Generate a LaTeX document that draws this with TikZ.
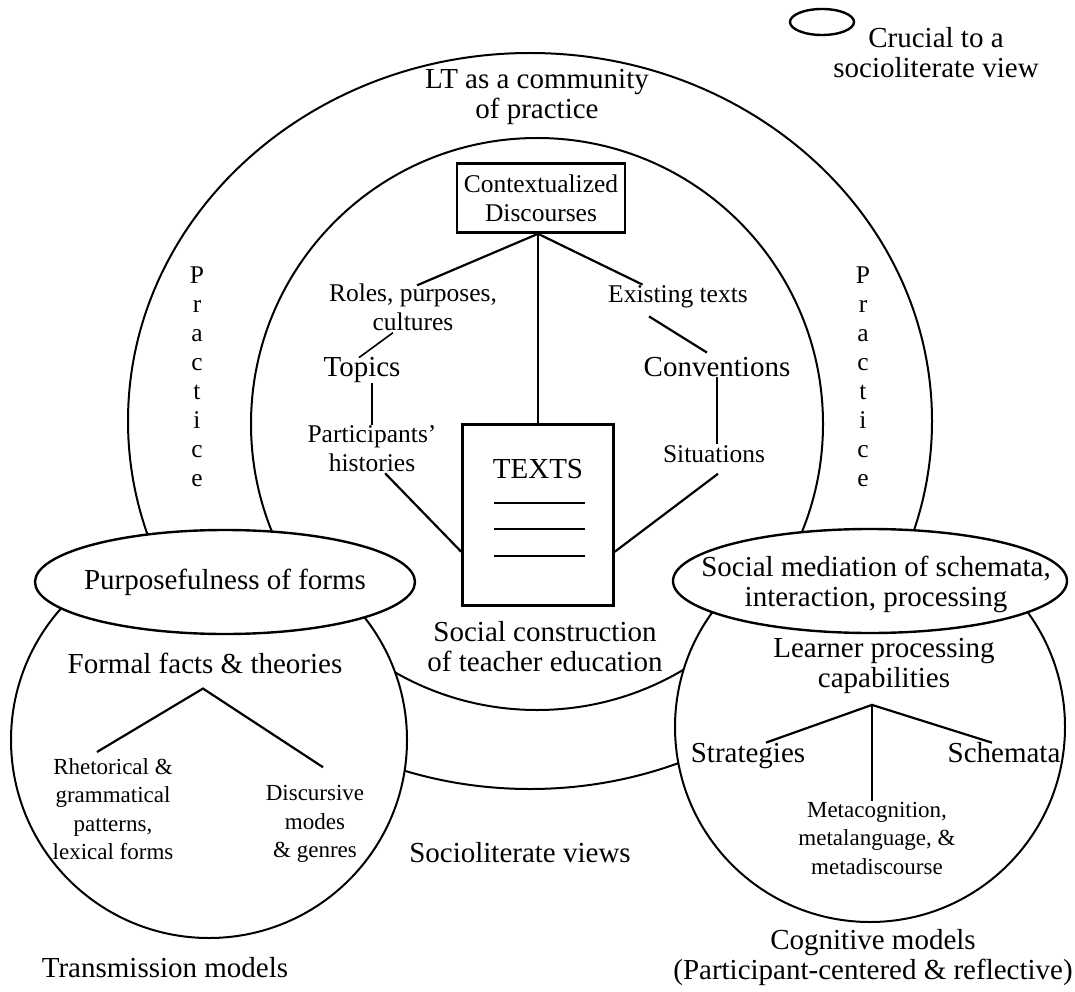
\documentclass[tikz,border=0pt]{standalone}
\usepackage{fontspec}
\setmainfont{Liberation Serif}
\usetikzlibrary{shapes.geometric,calc,positioning}
\tikzset{
  ring/.style     = {draw, line width=2pt, fill=white, inner sep=0pt},
  oval/.style     = {ring, ellipse, line width=2.4pt},
  boxed/.style    = {draw, line width=2.6pt, inner sep=0pt},
  bigtxt/.style   = {align=center, inner sep=1pt, font=\fontsize{29}{30}\selectfont},
  midtxt/.style   = {align=center, inner sep=1pt, font=\fontsize{25.5}{29}\selectfont},
  smalltxt/.style = {align=center, inner sep=1pt, font=\fontsize{23}{28.5}\selectfont},
  link/.style     = {line width=2.2pt}
}

\begin{document}
\begin{tikzpicture}[x=1pt, y=-1pt]
\useasboundingbox[fill=white] (0,0) rectangle (1075,992);

% the two big rings
\node[ring, ellipse, minimum width=804pt, minimum height=736pt] (outer) at (530,421) {};
\node[ring, circle, minimum size=572pt] (inner) at (537,424) {};

% the two model circles, with their ovals on top
\node[ring, circle, minimum size=396pt] (trans) at (209,740) {};
\node[ring, circle, minimum size=390pt] (cogn) at (870,727) {};
\node[oval, minimum width=380pt, minimum height=104pt] (purp) at (225,582) {};
\node[bigtxt] (purptxt) at (purp) {Purposefulness of forms};
\node[oval, minimum width=394pt, minimum height=104pt] (medi) at (870,581) {};
\node[bigtxt] (meditxt) at ($(medi)+(6,3)$) {Social mediation of schemata,\\interaction, processing};

% key
\node[oval, minimum width=64pt, minimum height=26pt] (key) at (822,22) {};
\node[bigtxt] (keytxt) at (936,53) {Crucial to a\\socioliterate view};

% outer ring
\node[bigtxt] (ltcom) at (537,97) {LT as a community\\of practice};
\node[midtxt] (pracl) at (197,377) {P\\r\\a\\c\\t\\i\\c\\e};
\node[midtxt] (pracr) at (863,377) {P\\r\\a\\c\\t\\i\\c\\e};

% inner ring: discourses and texts
\node[boxed, midtxt, minimum width=168pt, minimum height=69pt] (ctx) at (541,198) {Contextualized\\Discourses};
\node[boxed, minimum width=151pt, minimum height=181pt] (texts) at (538,515) {};
\node[bigtxt] (textslbl) at (538,469) {TEXTS};
\foreach \dy in {-12,14,41}
  \draw[line width=2.6pt] ($(texts.center)+(-44,\dy)$) -- ($(texts.center)+(47,\dy)$);

\node[midtxt] (roles) at (413,307) {Roles, purposes,\\cultures};
\node[bigtxt, anchor=base] (topics) at (362,376) {Topics};
\node[midtxt] (partic) at (372,449) {Participants'\\histories};
\node[midtxt] (exist) at (678,297) {Existing texts};
\node[bigtxt, anchor=base] (conv) at (717,376) {Conventions};
\node[midtxt] (situ) at (714,454) {Situations};
\node[bigtxt] (socc) at (545,647) {Social construction\\of teacher education};

\coordinate (ctxfoot) at (texts.north |- ctx.south);
\draw[link] (ctxfoot) -- ($(roles.north)+(4,3)$);
\draw[link] (ctxfoot) -- ($(exist.north)!0.5!(exist.north west)$);
\draw[link] (ctxfoot) -- (texts.north);
\draw[line width=1.6pt] ($(roles.south)+(-20,1)$) -- ($(topics.north)+(-3,2)$);
\draw[link] (partic.north) -- (partic.north |- topics.south);
\draw[link] ($(partic.south)!0.2!(partic.south east)$) -- ($(texts.north west)!0.7!(texts.south west)$);
\draw[link] ($(exist.south)+(-29,7)$) -- ($(conv.north)+(-10,-3)$);
\draw[link] (conv.south) -- (conv.south |- situ.north);
\draw[link] ($(situ.south)+(4,10)$) -- ($(texts.north east)!0.7!(texts.south east)$);

% transmission models
\node[bigtxt] (formal) at (205,663) {Formal facts \& theories};
\node[smalltxt] (rhet) at (113,809) {Rhetorical \&\\grammatical\\patterns,\\lexical forms};
\node[smalltxt] (disc) at (315,824) {Discursive\\modes\\\& genres};
\coordinate (fapex) at ($(formal.south)+(-2,14)$);
\draw[link] ($(rhet.north)+(-16,-5)$) -- (fapex) -- ($(disc.north)+(8,-17)$);

% cognitive models
\node[bigtxt] (learn) at (884,666) {Learner processing\\capabilities};
\node[bigtxt, anchor=base] (strat) at (748,762) {Strategies};
\node[bigtxt, anchor=base] (schem) at (1004,762) {Schemata};
\node[smalltxt] (meta) at (877,838) {Metacognition,\\metalanguage, \&\\metadiscourse};
\coordinate (lapex) at ($(learn.south)+(-12,10)$);
\draw[link] ($(strat.north)+(18,1)$) -- (lapex) -- ($(schem.north)+(-12,2)$);
\draw[link] (lapex) -- (lapex |- meta.north);

% captions
\node[bigtxt] (socio) at (520,853) {Socioliterate views};
\node[bigtxt] (transm) at (165,968) {Transmission models};
\node[bigtxt] (cogm) at (873,958) {Cognitive models\\(Participant-centered \& reflective)};

\end{tikzpicture}
\end{document}
